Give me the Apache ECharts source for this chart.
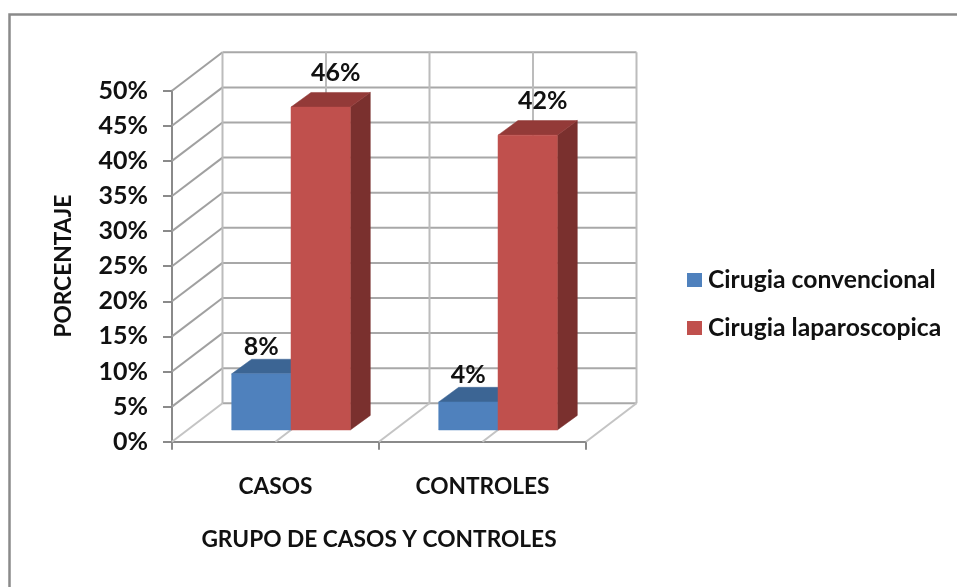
<!DOCTYPE html>
<html>
<head>
<meta charset="utf-8">
<style>html,body{margin:0;padding:0;background:#fff;overflow:hidden}#c{width:957px;height:587px}</style>
<script src="https://cdn.jsdelivr.net/npm/echarts@6/dist/echarts.min.js"></script>
</head>
<body>
<div id="c"></div>
<script>
const categories = ['CASOS', 'CONTROLES'];
const convencional = [8, 4];
const laparoscopica = [46, 42];
const yTicks = [0, 5, 10, 15, 20, 25, 30, 35, 40, 45, 50];
const FONT = 'Lato, Carlito, "Open Sans", sans-serif';

const DEPTH = [50.5, -38.4];
const BAR_SHIFT = [15.5, -11.7];
const BAR_DEPTH = [20, -14.6];
const BAR_W = 0.2865;

function wallItem(params, api) {
  const c0 = api.coord([0, 0]);
  const w = api.size([1, 0])[0];
  const left = c0[0] - w / 2;
  const base = c0[1];
  const top = api.coord([0, 50])[1];
  const kids = [];
  const line = (x1, y1, x2, y2, col) => kids.push({
    type: 'line', shape: {x1, y1, x2, y2},
    style: {stroke: col, lineWidth: 2}
  });
  yTicks.forEach(t => {
    const y = api.coord([0, t])[1];
    line(left + DEPTH[0], y + DEPTH[1], left + 2 * w + DEPTH[0], y + DEPTH[1], '#a8a8a8');
    line(left, y, left + DEPTH[0], y + DEPTH[1], t === 0 ? '#c4c4c4' : '#a0a0a0');
  });
  for (let i = 0; i <= 4; i++) {
    const x = left + i * w / 2;
    line(x + DEPTH[0], base + DEPTH[1], x + DEPTH[0], top + DEPTH[1], '#bcbcbc');
    if (i > 0) line(x, base, x + DEPTH[0], base + DEPTH[1], '#c4c4c4');
  }
  return {type: 'group', children: kids};
}

function barRenderer(side, colors, labelShift) {
  return function (params, api) {
    const idx = api.value(0), val = api.value(1);
    const cx = api.coord([idx, 0])[0];
    const w = api.size([1, 0])[0] * BAR_W;
    const y0 = api.coord([idx, 0])[1] + BAR_SHIFT[1];
    const y1 = api.coord([idx, val])[1] + BAR_SHIFT[1];
    const centre = cx + BAR_SHIFT[0];
    const xa = side < 0 ? centre - w : centre;
    const xb = xa + w;
    const dx = BAR_DEPTH[0], dy = BAR_DEPTH[1];
    const poly = (points, fill) => ({type: 'polygon', shape: {points}, style: {fill, stroke: fill, lineWidth: 0.5}});
    return {type: 'group', children: [
      poly([[xb, y0], [xb + dx, y0 + dy], [xb + dx, y1 + dy], [xb, y1]], colors.side),
      poly([[xa, y1], [xa + dx, y1 + dy], [xb + dx, y1 + dy], [xb, y1]], colors.top),
      poly([[xa, y0], [xb, y0], [xb, y1], [xa, y1]], colors.front),
      {type: 'text', z2: 10, style: {
        text: val + '%', x: (xa + xb) / 2 + labelShift[0], y: y1 + labelShift[1],
        align: 'center', verticalAlign: 'middle',
        font: 'bold 25px ' + FONT, fill: '#111'
      }}
    ]};
  };
}

const chart = echarts.init(document.getElementById('c'), null, {renderer: 'canvas'});
chart.setOption({
  animation: false,
  backgroundColor: '#fff',
  textStyle: {fontFamily: FONT},
  graphic: [{type: 'rect', shape: {x: 9.5, y: 14.5, width: 1100, height: 800},
    style: {fill: 'none', stroke: '#8a8a8a', lineWidth: 2.5}, silent: true}],
  grid: {left: 172, top: 90.7, width: 414, height: 351, containLabel: false},
  legend: {
    orient: 'vertical', left: 682, top: 262, itemWidth: 15, itemHeight: 14, itemGap: 22,
    data: [{name: 'Cirugia convencional', icon: 'rect'}, {name: 'Cirugia laparoscopica', icon: 'rect'}],
    selectedMode: false,
    textStyle: {fontFamily: FONT, fontSize: 24.7, fontWeight: 'bold', color: '#111', padding: [0, 0, 0, 1], lineHeight: 26}
  },
  xAxis: {
    type: 'category', data: categories, boundaryGap: true,
    name: 'GRUPO DE CASOS Y CONTROLES', nameLocation: 'middle', nameGap: 86,
    nameTextStyle: {fontFamily: FONT, fontSize: 22.7, fontWeight: 'bold', color: '#111'},
    axisLine: {show: true, lineStyle: {color: '#8a8a8a', width: 2}},
    axisTick: {show: true, length: 8, alignWithLabel: false, lineStyle: {color: '#8a8a8a', width: 2}},
    axisLabel: {margin: 33, fontFamily: FONT, fontSize: 22.7, fontWeight: 'bold', color: '#111'}
  },
  yAxis: {
    type: 'value', min: 0, max: 50, interval: 5,
    name: 'PORCENTAJE', nameLocation: 'middle', nameGap: 97, nameRotate: 90,
    nameTextStyle: {fontFamily: FONT, fontSize: 22.7, fontWeight: 'bold', color: '#111'},
    splitLine: {show: false},
    axisLine: {show: true, lineStyle: {color: '#8a8a8a', width: 2}},
    axisTick: {show: true, length: 9, lineStyle: {color: '#8a8a8a', width: 2}},
    axisLabel: {margin: 24, formatter: '{value}%', fontFamily: FONT, fontSize: 25, fontWeight: 'bold', color: '#111'}
  },
  series: [
    {type: 'custom', name: 'walls', coordinateSystem: 'cartesian2d', clip: false, silent: true, z: 1,
      data: [[0, 0]], renderItem: wallItem},
    {type: 'custom', name: 'Cirugia convencional', coordinateSystem: 'cartesian2d', clip: false, z: 2,
      itemStyle: {color: '#4f81bd'},
      data: convencional.map((v, i) => [i, v]),
      renderItem: barRenderer(-1, {front: '#4f81bd', top: '#3c6594', side: '#345680'}, [0, -27])},
    {type: 'custom', name: 'Cirugia laparoscopica', coordinateSystem: 'cartesian2d', clip: false, z: 3,
      itemStyle: {color: '#c0504d'},
      data: laparoscopica.map((v, i) => [i, v]),
      renderItem: barRenderer(1, {front: '#c0504d', top: '#933a38', side: '#7a302e'}, [15, -34])}
  ]
});
</script>
</body>
</html>
